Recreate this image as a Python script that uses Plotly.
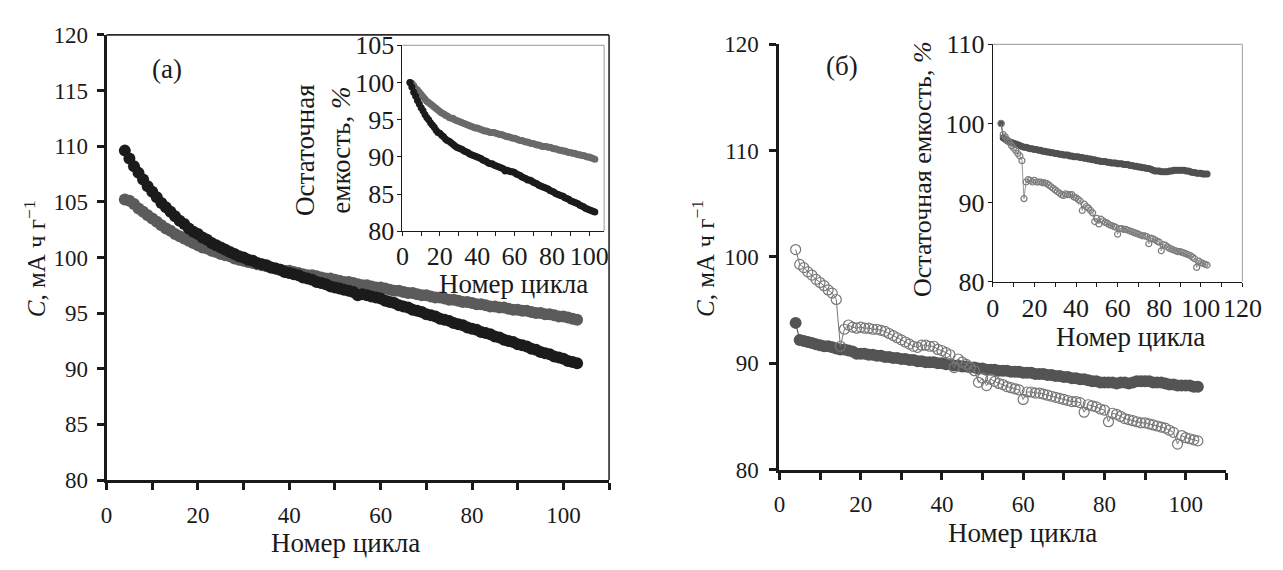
import plotly.graph_objects as go

W, H = 1283, 570
FONT = "Liberation Serif"
INK = "#1a1a1a"


def px(x):
    return x / W


def py(y):
    return 1 - y / H


# cycle numbers shared by every series
cycles = list(range(4, 104))

# panel (a): discharge capacity, mA h g^-1
cap_a_dark = [
    109.6, 108.9, 108.2, 107.6, 107.0, 106.4, 105.9, 105.4, 104.9, 104.5,
    104.1, 103.7, 103.3, 103.0, 102.6, 102.3, 102.1, 101.8, 101.6, 101.3,
    101.1, 100.9, 100.7, 100.5, 100.3, 100.1, 100.0, 99.8, 99.7, 99.5,
    99.4, 99.3, 99.1, 99.0, 98.9, 98.7, 98.6, 98.5, 98.4, 98.2,
    98.1, 98.0, 97.8, 97.7, 97.6, 97.4, 97.3, 97.2, 97.1, 97.0,
    96.9, 96.6, 96.7, 96.6, 96.5, 96.4, 96.3, 96.1, 96.0, 95.9,
    95.7, 95.6, 95.5, 95.3, 95.2, 95.1, 94.9, 94.8, 94.7, 94.5,
    94.4, 94.3, 94.1, 94.0, 93.9, 93.7, 93.6, 93.5, 93.3, 93.2,
    93.1, 92.9, 92.8, 92.6, 92.5, 92.4, 92.2, 92.1, 92.0, 91.8,
    91.7, 91.5, 91.4, 91.3, 91.1, 91.0, 90.9, 90.7, 90.6, 90.5,
]
cap_a_grey = [
    105.2, 105.1, 104.8, 104.4, 104.1, 103.8, 103.5, 103.2, 102.9, 102.6,
    102.4, 102.1, 101.9, 101.7, 101.5, 101.3, 101.1, 100.9, 100.8, 100.6,
    100.5, 100.3, 100.2, 100.1, 99.9, 99.8, 99.7, 99.6, 99.5, 99.4,
    99.3, 99.2, 99.1, 99.0, 98.9, 98.8, 98.8, 98.7, 98.6, 98.5,
    98.4, 98.4, 98.3, 98.2, 98.1, 98.1, 98.0, 97.9, 97.8, 97.8,
    97.7, 97.6, 97.5, 97.5, 97.4, 97.3, 97.3, 97.2, 97.1, 97.0,
    97.0, 96.9, 96.8, 96.8, 96.7, 96.6, 96.6, 96.5, 96.4, 96.4,
    96.3, 96.2, 96.2, 96.1, 96.0, 96.0, 95.9, 95.8, 95.8, 95.7,
    95.6, 95.6, 95.5, 95.5, 95.4, 95.3, 95.3, 95.2, 95.2, 95.1,
    95.0, 95.0, 94.9, 94.9, 94.8, 94.7, 94.7, 94.6, 94.5, 94.4,
]

# panel (a) inset: residual capacity, %
ret_a_dark = [
    100.0, 99.4, 98.7, 98.2, 97.6, 97.1, 96.6, 96.2, 95.7, 95.3,
    95.0, 94.6, 94.3, 94.0, 93.6, 93.3, 93.2, 92.9, 92.7, 92.4,
    92.2, 92.1, 91.9, 91.7, 91.5, 91.3, 91.2, 91.1, 91.0, 90.8,
    90.7, 90.6, 90.4, 90.3, 90.2, 90.1, 90.0, 89.9, 89.8, 89.6,
    89.5, 89.4, 89.2, 89.1, 89.1, 88.9, 88.8, 88.7, 88.6, 88.5,
    88.4, 88.1, 88.2, 88.1, 88.0, 88.0, 87.9, 87.7, 87.6, 87.5,
    87.3, 87.2, 87.1, 86.9, 86.9, 86.8, 86.6, 86.5, 86.4, 86.2,
    86.1, 86.0, 85.9, 85.8, 85.7, 85.5, 85.4, 85.3, 85.1, 85.0,
    84.9, 84.8, 84.7, 84.5, 84.4, 84.3, 84.1, 84.0, 83.9, 83.8,
    83.7, 83.5, 83.4, 83.3, 83.1, 83.0, 82.9, 82.8, 82.7, 82.6,
]
ret_a_grey = [
    100.0, 99.9, 99.6, 99.2, 99.0, 98.7, 98.4, 98.1, 97.8, 97.5,
    97.3, 97.1, 96.9, 96.7, 96.5, 96.3, 96.1, 95.9, 95.8, 95.6,
    95.5, 95.3, 95.2, 95.2, 95.0, 94.9, 94.8, 94.7, 94.6, 94.5,
    94.4, 94.3, 94.2, 94.1, 94.0, 93.9, 93.9, 93.8, 93.7, 93.6,
    93.5, 93.5, 93.4, 93.3, 93.3, 93.3, 93.2, 93.1, 93.0, 93.0,
    92.9, 92.8, 92.7, 92.7, 92.6, 92.5, 92.5, 92.4, 92.3, 92.2,
    92.2, 92.1, 92.0, 92.0, 91.9, 91.8, 91.8, 91.7, 91.6, 91.6,
    91.5, 91.4, 91.4, 91.4, 91.3, 91.3, 91.2, 91.1, 91.1, 91.0,
    90.9, 90.9, 90.8, 90.8, 90.7, 90.6, 90.6, 90.5, 90.5, 90.4,
    90.3, 90.3, 90.2, 90.2, 90.1, 90.0, 90.0, 89.9, 89.8, 89.7,
]

# panel (b): discharge capacity, mA h g^-1
cap_b_filled = [
    93.8, 92.2, 92.1, 92.0, 91.9, 91.8, 91.7, 91.6, 91.6, 91.5,
    91.4, 91.3, 91.3, 91.2, 91.1, 90.9, 90.9, 90.9, 90.8, 90.8,
    90.7, 90.7, 90.6, 90.6, 90.5, 90.5, 90.4, 90.4, 90.3, 90.3,
    90.2, 90.2, 90.1, 90.1, 90.1, 90.0, 90.0, 89.9, 89.9, 89.8,
    89.8, 89.7, 89.7, 89.6, 89.6, 89.5, 89.5, 89.4, 89.4, 89.4,
    89.3, 89.3, 89.3, 89.2, 89.2, 89.2, 89.1, 89.1, 89.1, 89.0,
    89.0, 89.0, 88.9, 88.9, 88.8, 88.8, 88.7, 88.7, 88.6, 88.6,
    88.5, 88.5, 88.4, 88.3, 88.3, 88.2, 88.2, 88.2, 88.2, 88.1,
    88.2, 88.2, 88.1, 88.2, 88.3, 88.3, 88.3, 88.3, 88.2, 88.2,
    88.2, 88.1, 88.0, 88.0, 87.9, 87.9, 87.9, 87.9, 87.8, 87.8,
]
cap_b_open = [
    100.7, 99.3, 99.0, 98.6, 98.3, 97.9, 97.6, 97.3, 96.9, 96.6,
    96.0, 91.6, 93.2, 93.6, 93.4, 93.3, 93.4, 93.3, 93.3, 93.2,
    93.2, 93.1, 93.0, 92.8, 92.6, 92.4, 92.2, 92.0, 91.8, 91.6,
    91.5, 91.7, 91.7, 91.6, 91.6, 91.3, 91.2, 91.0, 90.8, 89.6,
    90.4, 90.1, 89.9, 89.6, 89.3, 88.2, 88.6, 87.9, 88.5, 88.3,
    88.1, 88.0, 87.8, 87.7, 87.6, 87.5, 86.6, 87.3, 87.3, 87.2,
    87.2, 87.1, 87.0, 86.9, 86.8, 86.7, 86.6, 86.5, 86.4, 86.4,
    86.3, 85.4, 86.1, 86.0, 85.9, 85.7, 85.6, 84.5, 85.3, 85.2,
    85.0, 84.8, 84.7, 84.6, 84.5, 84.4, 84.4, 84.3, 84.2, 84.1,
    84.0, 83.9, 83.7, 83.5, 82.4, 83.2, 83.0, 82.9, 82.8, 82.7,
]

# panel (b) inset: residual capacity, %
ret_b_filled = [
    100.0, 98.2, 98.0, 97.8, 97.7, 97.6, 97.5, 97.4, 97.3, 97.2,
    97.1, 97.0, 97.0, 96.9, 96.8, 96.8, 96.7, 96.7, 96.6, 96.6,
    96.5, 96.5, 96.4, 96.4, 96.3, 96.3, 96.2, 96.2, 96.1, 96.1,
    96.0, 96.0, 96.0, 95.9, 95.9, 95.8, 95.8, 95.8, 95.7, 95.7,
    95.6, 95.6, 95.5, 95.5, 95.4, 95.4, 95.3, 95.3, 95.2, 95.2,
    95.2, 95.1, 95.1, 95.0, 95.0, 95.0, 94.9, 94.9, 94.9, 94.8,
    94.8, 94.8, 94.7, 94.7, 94.6, 94.6, 94.5, 94.5, 94.4, 94.4,
    94.3, 94.3, 94.2, 94.1, 94.0, 94.0, 94.0, 93.9, 93.9, 93.9,
    93.9, 94.0, 94.0, 94.1, 94.1, 94.1, 94.1, 94.1, 94.1, 94.0,
    94.0, 93.9, 93.8, 93.8, 93.7, 93.7, 93.7, 93.6, 93.6, 93.6,
]
ret_b_open = [
    100.0, 98.6, 98.3, 97.9, 97.6, 97.2, 96.9, 96.6, 96.2, 95.9,
    95.3, 90.5, 92.6, 92.9, 92.8, 92.6, 92.8, 92.6, 92.6, 92.6,
    92.5, 92.5, 92.4, 92.2, 92.0, 91.8, 91.6, 91.4, 91.2, 91.0,
    90.9, 91.1, 91.0, 91.0, 91.0, 90.7, 90.6, 90.4, 90.2, 89.0,
    89.8, 89.5, 89.3, 89.0, 88.7, 87.6, 88.0, 87.3, 87.9, 87.7,
    87.5, 87.4, 87.2, 87.1, 87.0, 86.9, 86.0, 86.7, 86.7, 86.6,
    86.6, 86.5, 86.4, 86.3, 86.2, 86.1, 86.0, 85.9, 85.8, 85.8,
    85.7, 84.8, 85.5, 85.4, 85.3, 85.1, 85.0, 83.9, 84.7, 84.6,
    84.4, 84.2, 84.1, 84.0, 83.9, 83.8, 83.8, 83.7, 83.6, 83.5,
    83.4, 83.3, 83.1, 82.9, 81.8, 82.6, 82.4, 82.3, 82.2, 82.1,
]

main_x_ticks = list(range(0, 111, 10))
main_x_text = [str(v) if v % 20 == 0 and v <= 100 else "" for v in main_x_ticks]
inset_a_x_ticks = list(range(0, 101, 10))
inset_a_x_text = [str(v) if v % 20 == 0 else "" for v in inset_a_x_ticks]
inset_b_x_ticks = list(range(0, 121, 10))
inset_b_x_text = [str(v) if v % 20 == 0 else "" for v in inset_b_x_ticks]

fig = go.Figure()


def dots(x, y, xa, ya, color, size, line_w=0.0, open_marker=False):
    marker = dict(size=size, color=color,
                  symbol="circle-open" if open_marker else "circle")
    if open_marker:
        marker["line"] = dict(color=color, width=1.2)
    mode = "lines+markers" if line_w > 0 else "markers"
    fig.add_trace(go.Scatter(
        x=x, y=y, xaxis=xa, yaxis=ya, mode=mode,
        line=dict(color=color, width=line_w),
        marker=marker, showlegend=False, hoverinfo="skip",
    ))


# panel (a)
dots(cycles, cap_a_grey, "x", "y", "#5b5b5b", 12)
dots(cycles, cap_a_dark, "x", "y", "#1b1b1b", 12)
# panel (a) inset
dots(cycles, ret_a_grey, "x2", "y2", "#6a6a6a", 7)
dots(cycles, ret_a_dark, "x2", "y2", "#1b1b1b", 7)
# panel (b)
dots(cycles, cap_b_filled, "x3", "y3", "#545454", 12, line_w=1.2)
dots(cycles, cap_b_open, "x3", "y3", "#777777", 10, line_w=1.0, open_marker=True)
# panel (b) inset
dots(cycles, ret_b_filled, "x4", "y4", "#505050", 7, line_w=1.0)
dots(cycles, ret_b_open, "x4", "y4", "#7c7c7c", 6, line_w=0.8, open_marker=True)


def axis(domain, rng, tickvals, ticktext, anchor, size, lw, tlen, twidth, standoff):
    return dict(
        domain=domain, range=rng, tickmode="array", tickvals=tickvals,
        ticktext=ticktext, anchor=anchor, showline=True, linecolor=INK,
        linewidth=lw, ticks="outside", ticklen=tlen, tickwidth=twidth,
        tickcolor=INK, showgrid=False, zeroline=False, fixedrange=True,
        tickfont=dict(family=FONT, size=size, color=INK),
        ticklabelstandoff=standoff,
    )


main_y_a = list(range(80, 121, 5))
main_y_b = list(range(80, 121, 10))
inset_y_a = list(range(80, 106, 5))
inset_y_b = list(range(80, 111, 10))

fig.update_layout(
    width=W, height=H, margin=dict(l=0, r=0, t=0, b=0),
    font=dict(family=FONT, color=INK),
    paper_bgcolor="white", plot_bgcolor="rgba(0,0,0,0)",
    xaxis=axis([px(101.7), px(615)], [0, 110], main_x_ticks, main_x_text,
               "y", 23, 3, 7, 2.5, 5),
    yaxis=axis([py(491), py(22)], [80, 120], main_y_a, [str(v) for v in main_y_a],
               "x", 23, 3, 7, 2.5, 4),
    xaxis2=axis([px(404), px(610)], [0, 108], inset_a_x_ticks, inset_a_x_text,
                "y2", 26, 1.3, 4, 1.2, -3),
    yaxis2=axis([py(229), py(33)], [80, 105], inset_y_a, [str(v) for v in inset_y_a],
                "x2", 26, 1.3, 4, 1.2, -2),
    xaxis3=axis([px(789), px(1245.5)], [0, 110], main_x_ticks, main_x_text,
                "y3", 23, 3, 7, 2.5, 5),
    yaxis3=axis([py(480), py(32)], [80, 120], main_y_b, [str(v) for v in main_y_b],
                "x3", 23, 3, 7, 2.5, 6),
    xaxis4=axis([px(1007), px(1262)], [0, 120], inset_b_x_ticks, inset_b_x_text,
                "y4", 26, 1.3, 4, 1.2, -1),
    yaxis4=axis([py(282), py(32)], [80, 110], inset_y_b, [str(v) for v in inset_y_b],
                "x4", 26, 1.3, 4, 1.2, -2),
)

shapes = []
# top and right edges of the frame around panel (a)
shapes.append(dict(type="line", xref="x domain", yref="y domain",
                   x0=0, x1=1, y0=1, y1=1, line=dict(color="#2a2a2a", width=1.6)))
shapes.append(dict(type="line", xref="x domain", yref="y domain",
                   x0=1, x1=1, y0=0, y1=1, line=dict(color="#2a2a2a", width=1.6)))
# light borders of the inset plot areas
for xa, ya in (("x2", "y2"), ("x4", "y4")):
    shapes.append(dict(type="line", xref=f"{xa} domain", yref=f"{ya} domain",
                       x0=0, x1=1, y0=1, y1=1, line=dict(color="#ababab", width=1.2)))
    shapes.append(dict(type="line", xref=f"{xa} domain", yref=f"{ya} domain",
                       x0=1, x1=1, y0=0, y1=1, line=dict(color="#ababab", width=1.2)))
fig.update_layout(shapes=shapes)


def note(text, x, y, size, angle=0):
    return dict(text=text, x=px(x), y=py(y), xref="paper", yref="paper",
                xanchor="center", yanchor="middle", showarrow=False,
                textangle=angle, font=dict(family=FONT, size=size, color=INK))


cap_title = "<i>C</i>, мА ч г<sup>−1</sup>"
ret_title = "Остаточная емкость, <i>%</i>"
fig.update_layout(annotations=[
    note("(a)", 163, 58, 27),
    note("(б)", 853, 55, 27),
    note(cap_title, 28, 258, 25, -90),
    note(cap_title, 711, 258, 25, -90),
    note("Номер цикла", 346, 557, 27),
    note("Номер цикла", 1037, 547, 27),
    note("Номер цикла", 517, 284, 27),
    note("Номер цикла", 1148, 340, 27),
    note("Остаточная<br>емкость, <i>%</i>", 323, 143, 27, -90),
    note(ret_title, 935, 163, 26, -90),
])

fig.write_html("out.html")
